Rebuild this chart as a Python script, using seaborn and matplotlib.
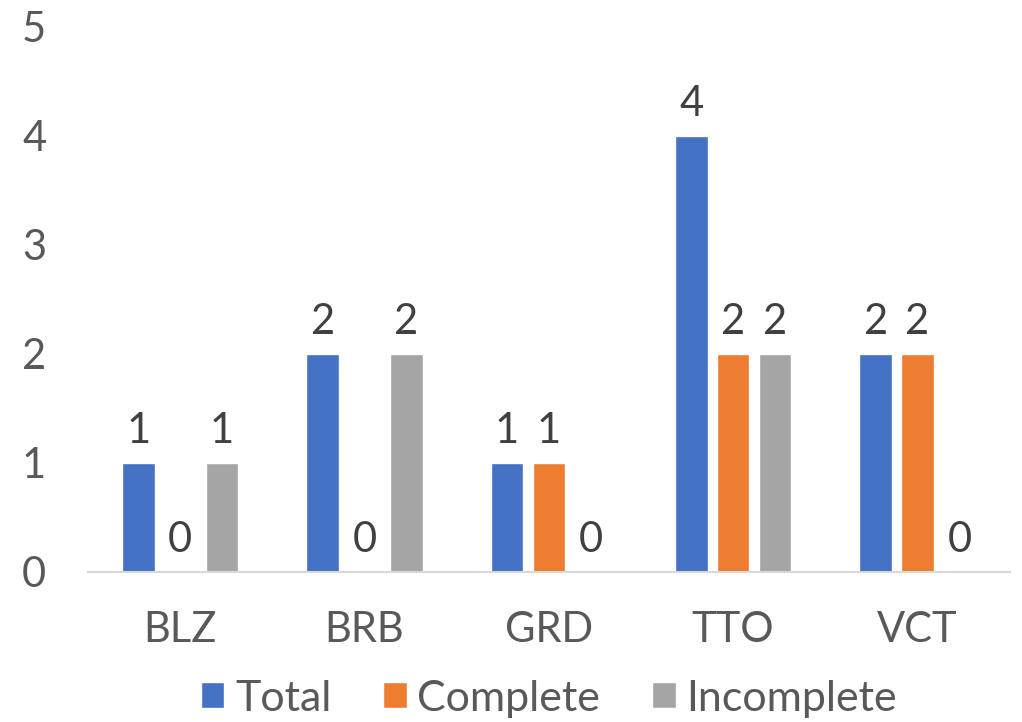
import matplotlib
matplotlib.use("Agg")
import matplotlib.pyplot as plt
import pandas as pd
import seaborn as sns

categories = ["BLZ", "BRB", "GRD", "TTO", "VCT"]
total = [1, 2, 1, 4, 2]
complete = [0, 0, 1, 2, 2]
incomplete = [1, 2, 0, 2, 0]
series_names = ["Total", "Complete", "Incomplete"]
colors = ["#4472C4", "#ED7D31", "#A5A5A5"]

sns.set_theme(style="white")
plt.rcParams["font.family"] = ["Lato", "DejaVu Sans"]

df = pd.DataFrame({
    "country": categories * 3,
    "series": [s for s in series_names for _ in categories],
    "value": total + complete + incomplete,
})

text_color = "#595959"
fs = 30
fig = plt.figure(figsize=(10.22, 7.22), dpi=100)
ax = fig.add_axes([0.086, 0.208, 0.902, 0.755])

sns.barplot(data=df, x="country", y="value", hue="series", hue_order=series_names,
            palette=colors, width=0.68, gap=0.22, saturation=1, ax=ax)

for container in ax.containers:
    ax.bar_label(container, fmt="%d", padding=9, fontsize=fs, color="#404040")

ax.set_xlim(-0.5, 4.5)
ax.set_ylim(0, 5)
ax.set_yticks(range(6))
ax.set_xlabel("")
ax.set_ylabel("")
ax.tick_params(axis="both", length=0, labelsize=fs, colors=text_color)
ax.tick_params(axis="x", pad=28)
ax.tick_params(axis="y", pad=30)
for side in ["top", "right", "left"]:
    ax.spines[side].set_visible(False)
ax.spines["bottom"].set_color("#D9D9D9")
ax.spines["bottom"].set_linewidth(1.5)

handles, labels = ax.get_legend_handles_labels()
ax.legend(handles, labels, loc="lower center", bbox_to_anchor=(0.5, -0.315), ncol=3,
          frameon=False, fontsize=31, labelcolor=text_color, handlelength=0.55,
          handleheight=0.55, handletextpad=0.25, columnspacing=1.2,
          borderpad=0.1)

fig.savefig("out.png", dpi=100)
